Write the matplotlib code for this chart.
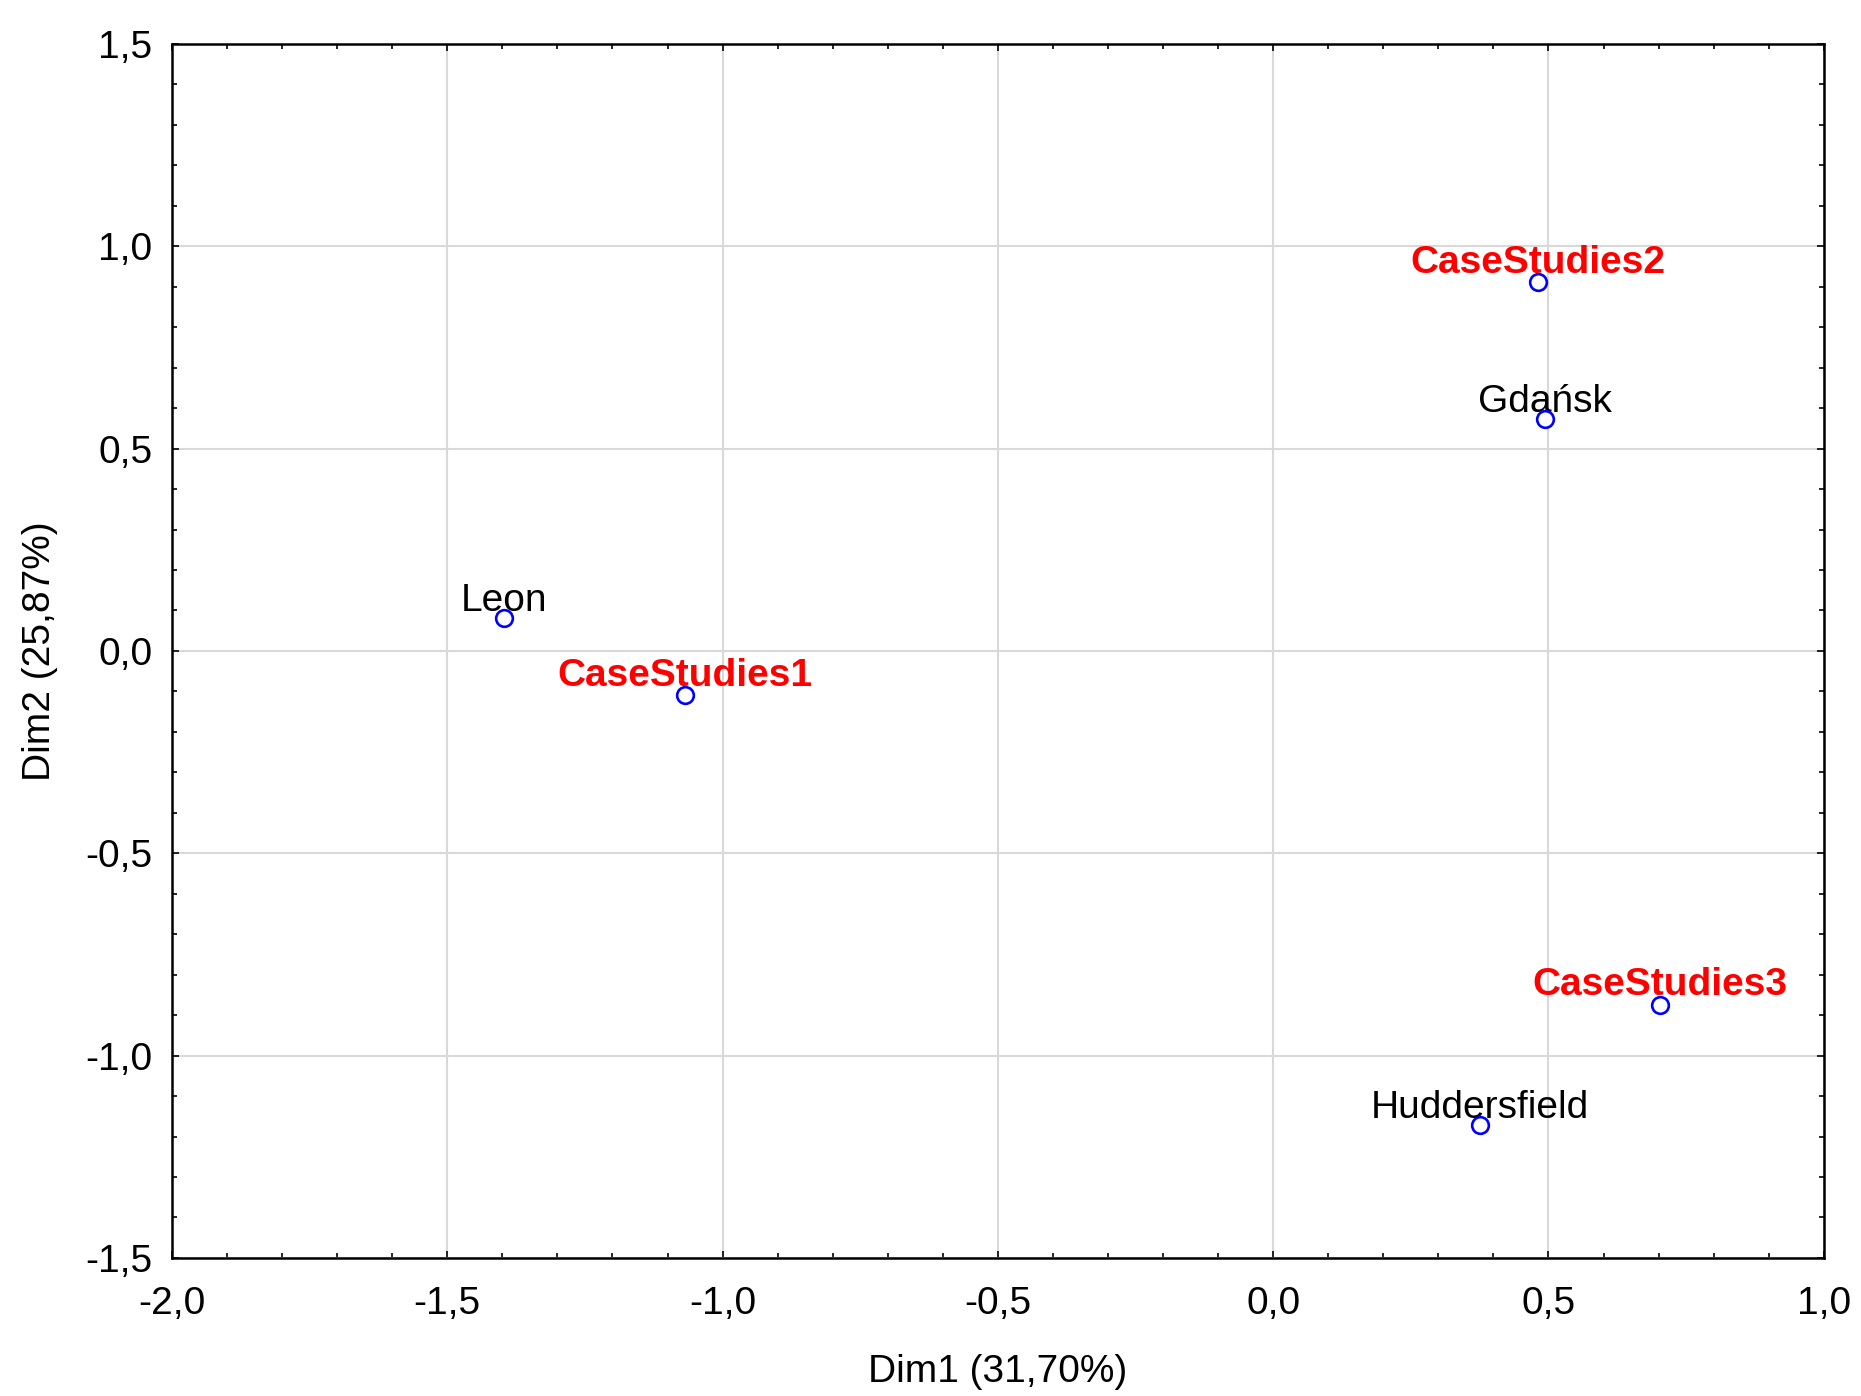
import numpy as np
import matplotlib
matplotlib.use('Agg')
import matplotlib.pyplot as plt
from matplotlib.ticker import MultipleLocator, FuncFormatter

plt.rcParams['font.family'] = ['Liberation Sans', 'DejaVu Sans']

# Coordinates of cities and case studies on the first two dimensions
cities = ['Leon', 'Gdańsk', 'Huddersfield']
city_dim1 = [-1.397, 0.494, 0.375]
city_dim2 = [0.081, 0.573, -1.171]

cases = ['CaseStudies1', 'CaseStudies2', 'CaseStudies3']
case_dim1 = [-1.069, 0.481, 0.703]
case_dim2 = [-0.110, 0.911, -0.875]

xlabel = 'Dim1 (31,70%)'
ylabel = 'Dim2 (25,87%)'

fig = plt.figure(figsize=(18.61, 13.96), dpi=100)
ax = fig.add_axes([0.0924, 0.0989, 0.8876, 0.8696])

ax.set_xlim(-2.0, 1.0)
ax.set_ylim(-1.5, 1.5)

# grid under everything
ax.set_axisbelow(True)
ax.grid(True, which='major', color='#d9d9d9', linewidth=1.5)

marker_style = dict(linestyle='none', marker='o', markersize=12,
                    markerfacecolor='white', markeredgecolor='#0000ff',
                    markeredgewidth=1.9, zorder=3)
ax.plot(city_dim1, city_dim2, **marker_style)
ax.plot(case_dim1, case_dim2, **marker_style)

for name, x, y in zip(cities, city_dim1, city_dim2):
    ax.annotate(name, (x, y), xytext=(0, 5), textcoords='offset points',
                ha='center', va='baseline', fontsize=28, color='black', zorder=2)

for name, x, y in zip(cases, case_dim1, case_dim2):
    ax.annotate(name, (x, y), xytext=(0, 7), textcoords='offset points',
                ha='center', va='baseline', fontsize=28, fontweight='bold',
                color='#ff0000', zorder=2)

comma = FuncFormatter(lambda v, pos: ('%.1f' % v).replace('.', ',').replace('−', '-'))
ax.xaxis.set_major_locator(MultipleLocator(0.5))
ax.yaxis.set_major_locator(MultipleLocator(0.5))
ax.xaxis.set_minor_locator(MultipleLocator(0.1))
ax.yaxis.set_minor_locator(MultipleLocator(0.1))
ax.xaxis.set_major_formatter(comma)
ax.yaxis.set_major_formatter(comma)

ax.tick_params(which='both', direction='in', top=True, right=True,
               width=1.2, labelsize=28, color='black')
ax.tick_params(which='major', length=5)
ax.tick_params(which='minor', length=3.5)
ax.tick_params(axis='x', which='major', pad=20)
ax.tick_params(axis='y', which='major', pad=14)

for sp in ax.spines.values():
    sp.set_linewidth(1.8)
    sp.set_color('black')

ax.set_xlabel(xlabel, fontsize=28, labelpad=23)
ax.set_ylabel(ylabel, fontsize=28, labelpad=20)

fig.savefig('out.png', dpi=100)
